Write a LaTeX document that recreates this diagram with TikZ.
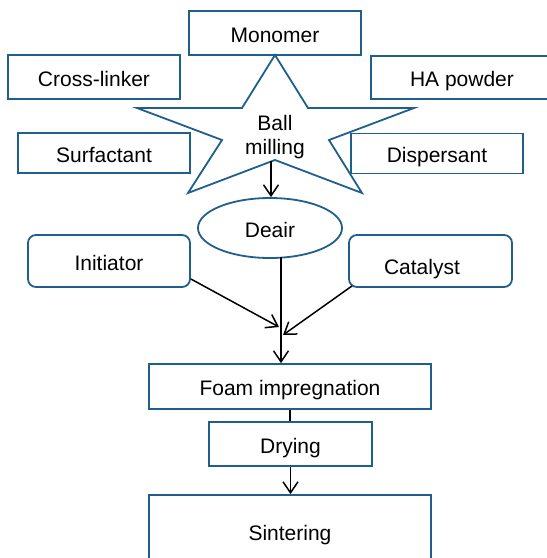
\documentclass[tikz,border=0pt]{standalone}
\usepackage{fontspec}
\setmainfont{Liberation Sans}
\usetikzlibrary{arrows.meta,shapes.geometric}
\definecolor{bord}{RGB}{31,95,140}
\begin{document}
\begin{tikzpicture}[x=1pt,y=-1pt,
  every node/.style={font=\fontsize{21}{24}\selectfont, inner sep=0pt},
  txt/.style={text height=20pt, text depth=2pt},
  box/.style={draw=bord, line width=1.8pt, rectangle, fill=white, txt},
  rbox/.style={box, rounded corners=8pt},
  arr/.style={draw=black, line width=1.5pt, -{Straight Barb[length=11pt,width=15pt]}},
  ln/.style={draw=black, line width=1.5pt}]
\useasboundingbox (0,0) rectangle (547,558);
\clip (0,0) rectangle (547,558);
% boxes around the star
\node[box, minimum width=172pt, minimum height=44pt] (mono) at (275,33) {Monomer};
\node[box, minimum width=172pt, minimum height=44pt] (cross) at (94,77) {Cross-linker};
\node[box, minimum width=182pt, minimum height=43pt] (ha) at (462,77.5) {HA powder};
\node[box, minimum width=172pt, minimum height=40pt] (surf) at (104,153) {Surfactant};
\node[box, minimum width=172pt, minimum height=40pt] (disp) at (437,153.5) {Dispersant};
% star
\draw[bord, line width=1.8pt, fill=white, line join=miter]
  (275,55) -- (308,108) -- (414,108) -- (329,140) -- (362,193) -- (275,160)
  -- (188,193) -- (222,140) -- (137,108) -- (242,108) -- cycle;
\node[align=center, font=\fontsize{21}{23.5}\selectfont] (ball) at (275,137) {Ball\\milling};
\coordinate (sb) at (271,161);
% deair
\node[draw=bord, line width=1.8pt, ellipse, minimum width=144pt, minimum height=60pt, txt] (deair) at (270,228) {Deair};
\draw[arr] (sb) -- (sb |- deair.north);
% initiator / catalyst
\node[rbox, minimum width=162pt, minimum height=52pt] (init) at (109,261) {Initiator};
\node[rbox, minimum width=163pt, minimum height=52pt,
  label={[txt, xshift=-8.5pt,yshift=-4pt]center:Catalyst}] (cat) at (430.5,261) {};
% process boxes
\node[box, minimum width=282pt, minimum height=45pt] (foam) at (290,386.5) {Foam impregnation};
\node[box, minimum width=163pt, minimum height=44pt] (dry) at (290.5,444) {Drying};
\node[box, minimum width=282pt, minimum height=72pt] (sint) at (290,531) {Sintering};
% connectors
\coordinate (ia) at (279,327);
\coordinate (ca) at (283,335);
\draw[arr] ([yshift=-18pt]init.east) -- (ia);
\draw[arr] ([shift={(4,-2)}]cat.south west) -- (ca);
\coordinate (dl) at (281,257);
\draw[arr] (dl) -- (dl |- foam.north);
\draw[ln] (foam.south) -- (foam.south |- dry.north);
\draw[arr] (dry.south) -- (dry.south |- sint.north);
\end{tikzpicture}
\end{document}
